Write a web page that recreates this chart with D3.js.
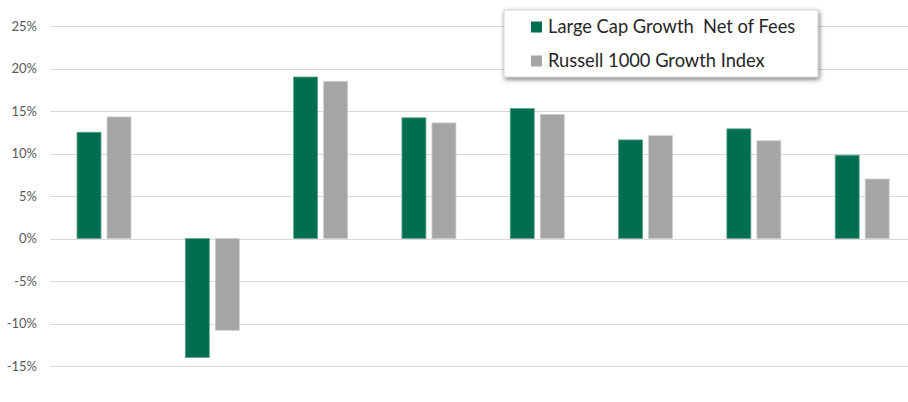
<!DOCTYPE html>
<html><head><meta charset="utf-8">
<script src="https://cdn.jsdelivr.net/npm/d3@7"></script>
<style>body{margin:0;background:#fff;}svg{display:block;}</style>
</head><body>
<svg id="c" width="908" height="402"></svg>
<script>
const categories = ["P1","P2","P3","P4","P5","P6","P7","P8"];
const seriesNames = ["Large Cap Growth  Net of Fees","Russell 1000 Growth Index"];
const largeCapNet = [12.5, -14.0, 19.0, 14.2, 15.3, 11.6, 12.9, 9.8];
const russell1000 = [14.3, -10.8, 18.5, 13.6, 14.6, 12.1, 11.5, 7.0];
const yTicks = [25, 20, 15, 10, 5, 0, -5, -10, -15, -20];
const colors = ["#026E50", "#A5A5A5"];

const svg = d3.select("#c");
const y = d3.scaleLinear().domain([-20, 25]).range([408.5, 26]);
const x0 = d3.scaleBand().domain(categories).range([50, 916.5]).padding(0);
const x1 = d3.scaleBand().domain([0,1]).range([27, 81]).paddingInner(0.2).paddingOuter(0);

// gridlines
svg.append("g").selectAll("line").data(yTicks).join("line")
  .attr("x1", 50).attr("x2", 908)
  .attr("y1", d => Math.round(y(d)) + 0.5).attr("y2", d => Math.round(y(d)) + 0.5)
  .attr("stroke", "#D9D9D9").attr("stroke-width", 1.2);

// y labels
svg.append("g").selectAll("text").data(yTicks).join("text")
  .attr("x", 37).attr("y", d => y(d) + 4.5)
  .attr("text-anchor", "end")
  .attr("font-family", "Lato, 'Open Sans', sans-serif").attr("font-size", 13)
  .attr("fill", "#595959")
  .text(d => d + "%");

const data = categories.map((c, i) => ({c, v: [largeCapNet[i], russell1000[i]]}));
const g = svg.append("g");
data.forEach(d => {
  d.v.forEach((v, j) => {
    g.append("rect")
      .attr("x", x0(d.c) + x1(j))
      .attr("width", x1.bandwidth())
      .attr("y", Math.min(y(v), y(0)))
      .attr("height", Math.abs(y(v) - y(0)))
      .attr("fill", colors[j])
      .attr("stroke", j === 0 ? "#5FA58F" : "#CFCFCF").attr("stroke-width", 0.8);
  });
});

// legend
const defs = svg.append("defs");
const f = defs.append("filter").attr("id","sh").attr("x","-10%").attr("y","-20%").attr("width","120%").attr("height","150%");
f.append("feGaussianBlur").attr("in","SourceAlpha").attr("stdDeviation", 2.5);
f.append("feOffset").attr("dx", 1).attr("dy", 2).attr("result","b");
f.append("feComponentTransfer").append("feFuncA").attr("type","linear").attr("slope",0.55);
const m = f.append("feMerge"); m.append("feMergeNode"); m.append("feMergeNode").attr("in","SourceGraphic");

const lg = svg.append("g");
lg.append("rect").attr("x", 504).attr("y", 10).attr("width", 314).attr("height", 67)
  .attr("fill", "#fff").attr("stroke", "#C8C8C8").attr("stroke-width", 0.8).attr("filter","url(#sh)");
seriesNames.forEach((s, i) => {
  const yy = 27 + i * 34;
  lg.append("rect").attr("x", 531).attr("y", yy - 5.5).attr("width", 11).attr("height", 11).attr("fill", colors[i]);
  lg.append("text").attr("x", 548).attr("y", yy + 6)
    .attr("font-family", "Lato, 'Open Sans', sans-serif").attr("font-size", 18.3)
    .attr("fill", "#262626").attr("xml:space","preserve").style("white-space","pre").text(s);
});
</script>
</body></html>
